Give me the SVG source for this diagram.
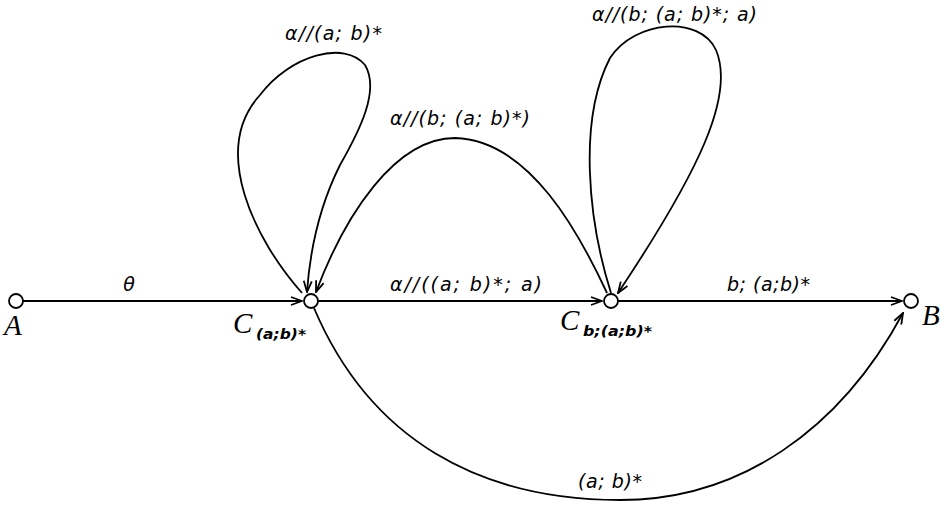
<svg xmlns="http://www.w3.org/2000/svg" width="944" height="506" viewBox="0 0 944 506">
<style>
.e{fill:none;stroke:#000;stroke-width:1.8}
.n{fill:#fff;stroke:#000;stroke-width:1.8}
.l{font-family:"DejaVu Sans","Liberation Sans",sans-serif;font-style:italic;font-size:19px;fill:#000}
.nl{font-family:"Liberation Serif","DejaVu Serif",serif;font-style:italic;font-size:29px;fill:#000}
.sub{font-family:"DejaVu Sans","Liberation Sans",sans-serif;font-style:italic;font-weight:bold;font-size:14px;fill:#000}
</style>
<defs>
<marker id="ar" viewBox="0 0 13 10" refX="12" refY="5" markerWidth="13" markerHeight="10" markerUnits="userSpaceOnUse" orient="auto">
<path d="M1,1 L12,5 L1,9" fill="none" stroke="#000" stroke-width="1.8"/>
</marker>
</defs>
<g id="connectors">
<path class="e" d="M23,301 L302,301" marker-end="url(#ar)"/>
<path class="e" d="M318,301 L602,301" marker-end="url(#ar)"/>
<path class="e" d="M618,301 L902,301" marker-end="url(#ar)"/>
<path class="e" d="M314,308 C370,440 480,500 620,500 C740,500 840,430 903,313" marker-end="url(#ar)"/>
<path class="e" d="M302,293 C255,240 210,150 260,95 C290,55 345,40 365,65 C380,90 360,130 340,165 C320,205 310,250 307,292" marker-end="url(#ar)"/>
<path class="e" d="M607,293 C580,235 530,140 455,138 C395,138 345,215 316,292" marker-end="url(#ar)"/>
<path class="e" d="M611,293 C588,220 578,120 610,58 C635,20 700,15 716,50 C735,95 700,170 618,293" marker-end="url(#ar)"/>
<text class="l" x="129" y="291" text-anchor="middle">θ</text>
<text class="l" x="390" y="291" textLength="152" lengthAdjust="spacing">α//((a; b)*; a)</text>
<text class="l" x="727" y="291" textLength="83" lengthAdjust="spacing">b; (a;b)*</text>
<text class="l" x="285" y="40" textLength="97" lengthAdjust="spacing">α//(a; b)*</text>
<text class="l" x="390" y="125" textLength="140" lengthAdjust="spacing">α//(b; (a; b)*)</text>
<text class="l" x="592" y="21" textLength="165" lengthAdjust="spacing">α//(b; (a; b)*; a)</text>
<text class="l" x="578" y="488" textLength="64" lengthAdjust="spacing">(a; b)*</text>
</g>
<g id="A"><circle class="n" cx="16" cy="301" r="7"/><text class="nl" x="4" y="335">A</text></g>
<g id="C1"><circle class="n" cx="311" cy="301" r="7"/><text class="nl" x="233" y="333">C</text><text class="sub" x="256" y="339" textLength="50" lengthAdjust="spacingAndGlyphs">(a;b)*</text></g>
<g id="C2"><circle class="n" cx="611" cy="301" r="7"/><text class="nl" x="560" y="330">C</text><text class="sub" x="583" y="336" textLength="69" lengthAdjust="spacingAndGlyphs">b;(a;b)*</text></g>
<g id="B"><circle class="n" cx="911" cy="301" r="7"/><text class="nl" x="922" y="325">B</text></g>
</svg>
